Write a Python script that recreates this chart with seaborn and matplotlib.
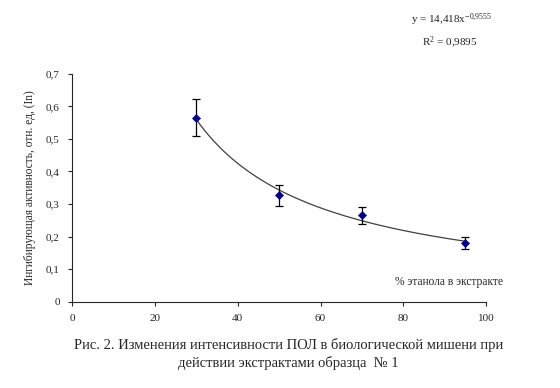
import numpy as np
import pandas as pd
import matplotlib
matplotlib.use("Agg")
import matplotlib.pyplot as plt
import seaborn as sns

# ethanol share in extract, % and inhibiting activity (In)
ethanol = [30, 50, 70, 95]
activity = [0.565, 0.327, 0.265, 0.180]
errors = [0.057, 0.033, 0.026, 0.018]

# power trend line coefficients shown on the chart
coef_a = 14.418
coef_b = -0.9555
r_squared = 0.9895

x_ticks = [0, 20, 40, 60, 80, 100]
y_ticks = [0, 0.1, 0.2, 0.3, 0.4, 0.5, 0.6, 0.7]


def comma(v):
    # decimal comma, like the original
    return ("%g" % v).replace(".", ",")


def main():
    sns.set_style("ticks")
    plt.rcParams['font.family'] = ['Liberation Serif', 'DejaVu Serif']
    plt.rcParams['mathtext.fontset'] = 'custom'
    plt.rcParams['mathtext.rm'] = 'Liberation Serif'
    plt.rcParams['mathtext.it'] = 'Liberation Serif'

    fig = plt.figure(figsize=(5.6, 3.88), dpi=100)
    ax = fig.add_axes([0.129, 0.222, 0.739, 0.588])

    df = pd.DataFrame({"x": ethanol, "y": activity, "err": errors})

    # trend line over the measured range
    xs = np.linspace(min(ethanol), max(ethanol), 200)
    trend = pd.DataFrame({"x": xs, "y": coef_a * xs ** coef_b})
    sns.lineplot(data=trend, x="x", y="y", ax=ax, color="#404040",
                 linewidth=0.9)

    ax.errorbar(df["x"], df["y"], yerr=df["err"], fmt="none",
                ecolor="black", elinewidth=0.9, capsize=3, capthick=0.9)
    sns.scatterplot(data=df, x="x", y="y", ax=ax, marker="D", s=18,
                    color="#00007f", edgecolor="#00007f", zorder=5)

    ax.set_xlim(0, 100)
    ax.set_ylim(0, 0.7)
    ax.set_xticks(x_ticks)
    ax.set_yticks(y_ticks)
    ax.set_xticklabels([comma(v) for v in x_ticks], fontsize=8)
    ax.set_yticklabels([comma(v) for v in y_ticks], fontsize=8)
    ax.tick_params(length=3, width=0.8, pad=6)
    for side in ["left", "bottom"]:
        ax.spines[side].set_linewidth(0.8)
    sns.despine(ax=ax)

    ax.set_xlabel("")
    ax.set_ylabel("Ингибирующая активность, отн. ед, (In)", fontsize=8.3,
                  labelpad=7)

    ax.text(1.041, 0.085, "% этанола в экстракте", transform=ax.transAxes,
            ha="right", va="center", fontsize=8.3)

    fig.text(0.806, 0.948, "y = 14,418x$^{-0{,}9555}$", ha="center",
             va="center", fontsize=8)
    fig.text(0.804, 0.888, "R$^{2}$ = " + comma(r_squared), ha="center",
             va="center", fontsize=8)

    fig.text(0.515, 0.111, "Рис. 2. Изменения интенсивности ПОЛ в биологической "
             "мишени при", ha="center", va="center", fontsize=10.5)
    fig.text(0.515, 0.064, "действии экстрактами образца  № 1", ha="center",
             va="center", fontsize=10.5)

    fig.savefig("out.png", dpi=100)


if __name__ == "__main__":
    main()
